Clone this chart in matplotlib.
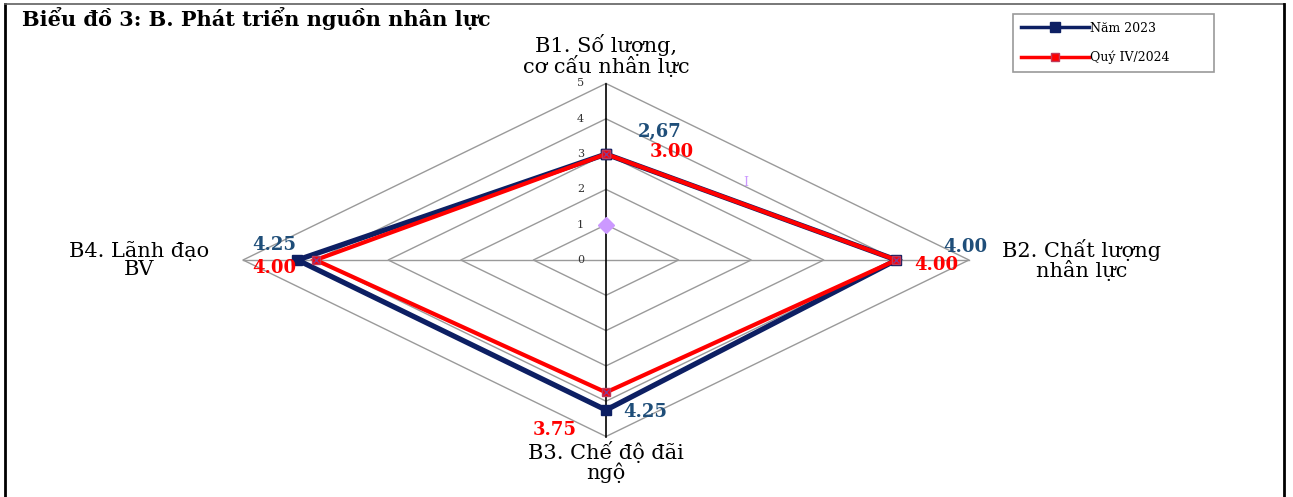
import matplotlib
matplotlib.use('Agg')
import matplotlib.pyplot as plt
import numpy as np
from matplotlib.lines import Line2D

plt.rcParams['font.family'] = ['DejaVu Serif']

categories = ['B1. Số lượng,\ncơ cấu nhân lực', 'B2. Chất lượng\nnhân lực',
              'B3. Chế độ đãi\nngộ', 'B4. Lãnh đạo\nBV']
series_names = ['Năm 2023', 'Quý IV/2024']
vals_2023 = [3.00, 4.00, 4.25, 4.25]
vals_2024 = [3.00, 4.00, 3.75, 4.00]
labels_2023 = ['2,67', '4.00', '4.25', '4.25']
labels_2024 = ['3.00', '4.00', '3.75', '4.00']
ticks = [0, 1, 2, 3, 4, 5]
stray_val = 1  # leftover point on B1 axis

W, H = 1293, 497
fig = plt.figure(figsize=(W / 100, H / 100), dpi=100)
ax = fig.add_axes([0, 0, 1, 1])

# centre (606,260) px, 72.6 px/unit horizontally, 35.3 px/unit vertically
cx, cy, sx, sy = 606, 260, 72.6, 35.3
ax.set_xlim(-cx / sx, (W - cx) / sx)
ax.set_ylim(-(H - cy) / sy, cy / sy)
ax.axis('off')

ang = np.array([0, 0.5, 1.0, 1.5]) * np.pi  # B1 up, clockwise


def xy(vals):
    v = np.asarray(vals, dtype=float)
    x = v * np.sin(ang)
    y = v * np.cos(ang)
    return np.append(x, x[0]), np.append(y, y[0])


# grid diamonds
for r in ticks[1:]:
    gx, gy = xy([r] * 4)
    ax.plot(gx, gy, color='#9a9a9a', lw=1, zorder=1)
ax.plot([-5, 5], [0, 0], color='#9a9a9a', lw=1, zorder=1)
ax.plot([0, 0], [-5, 5], color='black', lw=1.2, zorder=1)
for t in ticks:
    ax.text(-0.3, t, str(t), fontsize=8, ha='right', va='center', color='#333333')

# series
x1, y1 = xy(vals_2023)
ax.plot(x1, y1, color='#0d1f63', lw=3.8, marker='s', ms=7, zorder=3,
        solid_joinstyle='miter', label=series_names[0])
x2, y2 = xy(vals_2024)
ax.plot(x2, y2, color='#ff0000', lw=3.0, marker='s', ms=6, mec='#c03a5a', zorder=4,
        solid_joinstyle='miter', label=series_names[1])
ax.plot(x2[:-1], y2[:-1], ls='none', marker='x', ms=5, color='#8a3a8a', mew=1, zorder=5)

ax.plot(0, stray_val, marker='D', ms=8, color='#cc99ff', mec='#cc99ff', zorder=2)
ax.text(1.92, 2.2, 'I', fontsize=9, color='#cc99ff', ha='center', va='center')

# data labels (pixel offsets)
off_2023 = [(54, 22), (69, 13), (39, -2), (-23, 15)]
off_2024 = [(66, 2), (40, -5), (-51, -38), (-41, -8)]
for i in range(4):
    ax.annotate(labels_2023[i], (x1[i], y1[i]), xytext=off_2023[i], textcoords='offset pixels',
                ha='center', va='center', fontsize=13, fontweight='bold', color='#1f4e79', zorder=6)
    ax.annotate(labels_2024[i], (x2[i], y2[i]), xytext=off_2024[i], textcoords='offset pixels',
                ha='center', va='center', fontsize=13, fontweight='bold', color='#ff0000', zorder=6)

# category labels
cat_pos = [(0, 5.8), (6.55, 0), (0, -5.72), (-6.43, 0)]
for (px, py), c in zip(cat_pos, categories):
    ax.text(px, py, c, fontsize=15, ha='center', va='center', linespacing=0.95)

fig.text(22 / W, 1 - 19 / H, 'Biểu đồ 3: B. Phát triển nguồn nhân lực',
         fontsize=15, fontweight='bold', ha='left', va='center')

leg = ax.legend(loc='upper left', bbox_to_anchor=(1013 / W, 1 - 69 / H, 201 / W, 55 / H),
                bbox_transform=fig.transFigure, mode='expand', fontsize=9, frameon=True,
                fancybox=False, edgecolor='#808080', handlelength=5.5, labelspacing=1.3,
                borderpad=0.6, handletextpad=0.1, borderaxespad=0)
leg.get_frame().set_linewidth(1.2)
for h in leg.get_lines():
    h.set_linewidth(2.5)

# outer frame
fig.add_artist(Line2D([5 / W, 5 / W], [0, 1 - 4 / H], transform=fig.transFigure, color='black', lw=2))
fig.add_artist(Line2D([5 / W, 1284 / W], [1 - 4 / H, 1 - 4 / H], transform=fig.transFigure, color='#606060', lw=1.2))
fig.add_artist(Line2D([1284 / W, 1284 / W], [0, 1 - 4 / H], transform=fig.transFigure, color='black', lw=2))

fig.savefig('out.png', dpi=100, facecolor='white')
